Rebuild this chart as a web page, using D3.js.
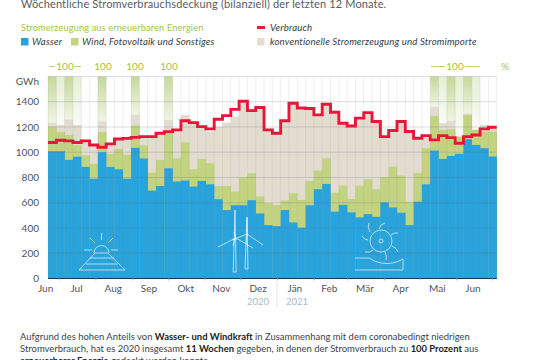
<!DOCTYPE html>
<html>
<head>
<meta charset="utf-8">
<script src="https://cdn.jsdelivr.net/npm/d3@7"></script>
<style>
  html, body { margin: 0; padding: 0; background: #fff; overflow: hidden; }
  text { font-family: Lato, "Open Sans", sans-serif; }
</style>
</head>
<body>
<script>
// top of each stack layer per week (GWh)
var waterTop = [1008,1008,940,965,884,790,1000,884,865,790,1035,950,696,733,873,768,776,728,773,746,628,542,580,580,620,515,423,415,542,444,402,580,707,749,529,583,524,484,510,489,603,563,521,423,608,746,1013,947,971,987,1103,1058,1032,966];
var renewableTop = [1203,1160,1137,1055,976,908,1160,987,1026,980,1211,1055,839,940,1160,952,1079,865,947,913,733,733,688,800,834,650,596,583,617,675,622,773,855,952,680,736,630,735,786,707,802,886,815,609,834,1032,1288,1177,1182,1124,1296,1177,1164,1164];
var totalTop = [1235,1216,1261,1216,1100,1060,1245,1058,1100,1110,1300,1124,1124,1150,1255,1180,1295,1240,1205,1164,1203,1235,1282,1404,1330,1354,1177,1150,1250,1388,1351,1346,1296,1380,1317,1230,1208,1270,1314,1243,1124,1172,1243,1164,1111,1132,1362,1230,1250,1124,1309,1177,1216,1203];
var consumption = [1077,1095,1090,1077,1090,1058,1040,1066,1105,1110,1118,1124,1124,1150,1163,1177,1250,1235,1203,1185,1261,1290,1340,1404,1330,1354,1177,1150,1250,1388,1351,1346,1296,1380,1317,1230,1208,1270,1314,1243,1124,1172,1243,1164,1111,1132,1098,1132,1116,1071,1124,1137,1185,1198];

// weeks with 100 percent coverage
var fullWeeks = [0,2,6,10,14,46,48,50];
var paleWeeks = [1,3,47,49,51];

var yTicks = [0,200,400,600,800,1000,1200,1400];
var monthNames = ['Jun','Jul','Aug','Sep','Okt','Nov','Dez','Jän','Feb','Mär','Apr','Mai','Jun'];
var monthLabelDates = ['2020-06-20','2020-07-16','2020-08-16','2020-09-15','2020-10-16','2020-11-15','2020-12-16','2021-01-16','2021-02-14','2021-03-16','2021-04-15','2021-05-16','2021-06-15'];

var colors = {
  water: '#29a3dc',
  wind: '#c3d480',
  conv: '#e3ddd0',
  red: '#e8173a',
  green: '#a3c43c',
  ink: '#4c5660',
  year: '#a9bccb'
};

var svg = d3.select('body').append('svg')
  .attr('width', 540)
  .attr('height', 360);

//
// scales
//
var xWeek = d3.scaleLinear().domain([0, 54]).range([48, 496.7]);
var xTime = d3.scaleUtc()
  .domain([new Date('2020-06-22'), new Date('2021-07-05')])
  .range([48, 496.7]);
var y = d3.scaleLinear().domain([0, 1600]).range([278.5, 76.5]);
var barW = xWeek(1) - xWeek(0);

//
// gradients for the 100 percent columns
//
var defs = svg.append('defs');
function addGradient(id, a, b) {
  var g = defs.append('linearGradient').attr('id', id)
    .attr('x1', 0).attr('x2', 0).attr('y1', 0).attr('y2', 1);
  g.append('stop').attr('offset', 0).attr('stop-color', '#b3cc78').attr('stop-opacity', a);
  g.append('stop').attr('offset', 1).attr('stop-color', '#b3cc78').attr('stop-opacity', b);
}
addGradient('fullBand', 0.75, 0.2);
addGradient('paleBand', 0.32, 0.06);

svg.selectAll('.band-full').data(fullWeeks).enter().append('rect')
  .attr('x', d => xWeek(d)).attr('width', barW)
  .attr('y', y(1600)).attr('height', d => y(totalTop[d]) - y(1600))
  .attr('fill', 'url(#fullBand)');
svg.selectAll('.band-pale').data(paleWeeks).enter().append('rect')
  .attr('x', d => xWeek(d)).attr('width', barW)
  .attr('y', y(1600)).attr('height', d => y(totalTop[d]) - y(1600))
  .attr('fill', 'url(#paleBand)');

//
// stacked bars, tallest layer first
//
function drawLayer(values, fill) {
  svg.append('g').selectAll('rect').data(values).enter().append('rect')
    .attr('x', (d, i) => xWeek(i))
    .attr('width', barW + 0.2)
    .attr('y', d => y(d))
    .attr('height', d => y(0) - y(d))
    .attr('fill', fill);
}
drawLayer(totalTop, colors.conv);
drawLayer(renewableTop, colors.wind);
drawLayer(waterTop, colors.water);

//
// grid on top of the bars
//
svg.append('g').selectAll('line').data(d3.range(0, 55)).enter().append('line')
  .attr('x1', d => xWeek(d)).attr('x2', d => xWeek(d))
  .attr('y1', y(1600)).attr('y2', y(0))
  .attr('stroke', '#6f7f8c').attr('stroke-opacity', 0.17).attr('stroke-width', 0.8);

svg.append('g').selectAll('line').data(d3.range(200, 1601, 200)).enter().append('line')
  .attr('x1', 48).attr('x2', 496.7)
  .attr('y1', d => y(d)).attr('y2', d => y(d))
  .attr('stroke', '#5f6b75').attr('stroke-opacity', 0.28).attr('stroke-width', 0.8);

//
// consumption line
//
var stepLine = d3.line()
  .x((d, i) => xWeek(i))
  .y(d => y(d))
  .curve(d3.curveStepAfter);
svg.append('path')
  .datum(consumption.concat(consumption[consumption.length - 1]))
  .attr('d', stepLine)
  .attr('fill', 'none')
  .attr('stroke', colors.red)
  .attr('stroke-width', 2.9);

//
// axes
//
var yAxis = d3.axisLeft(y).tickValues(yTicks).tickSize(0).tickPadding(9).tickFormat(d3.format('d'));
var yG = svg.append('g').attr('transform', 'translate(48,0)').call(yAxis);
yG.select('.domain').remove();
yG.selectAll('text').attr('font-size', 10).attr('fill', colors.ink);

var xAxis = d3.axisBottom(xTime).ticks(d3.utcMonth.every(1)).tickSize(2).tickFormat('');
var xG = svg.append('g').attr('transform', 'translate(0,278.5)').call(xAxis);
xG.select('.domain').attr('stroke', '#123a55').attr('stroke-width', 1.2).attr('d', 'M48,0H496.7');
xG.selectAll('line').attr('stroke', '#a8b0b6');

svg.append('g').selectAll('text').data(monthNames).enter().append('text')
  .attr('x', (d, i) => xTime(new Date(monthLabelDates[i])))
  .attr('y', 292)
  .attr('text-anchor', 'middle')
  .attr('font-size', 10)
  .attr('fill', colors.ink)
  .text(d => d);

// year labels under the axis
svg.append('line').attr('x1', 277).attr('x2', 277).attr('y1', 283).attr('y2', 307)
  .attr('stroke', '#dfe5ea').attr('stroke-width', 1);
svg.append('text').attr('x', 258).attr('y', 305).attr('text-anchor', 'middle')
  .attr('font-size', 9.5).attr('fill', colors.year).text('2020');
svg.append('text').attr('x', 297).attr('y', 305).attr('text-anchor', 'middle')
  .attr('font-size', 9.5).attr('fill', colors.year).text('2021');

svg.append('text').attr('x', 39).attr('y', 85).attr('text-anchor', 'end')
  .attr('font-size', 10).attr('fill', colors.ink).text('GWh');

//
// 100 labels above the plot
//
var hundredLabels = [65, 103, 135, 169, 455];
svg.append('g').selectAll('text').data(hundredLabels).enter().append('text')
  .attr('x', d => d).attr('y', 70)
  .attr('text-anchor', 'middle')
  .attr('font-size', 10)
  .attr('fill', colors.green)
  .text('100');
svg.append('text').attr('x', 505).attr('y', 70).attr('text-anchor', 'middle')
  .attr('font-size', 10).attr('fill', colors.green).text('%');
[[49, 55], [74, 81], [431, 445], [465, 480]].forEach(function(s) {
  svg.append('line').attr('x1', s[0]).attr('x2', s[1]).attr('y1', 66.5).attr('y2', 66.5)
    .attr('stroke', colors.green).attr('stroke-width', 0.7);
});

//
// title and legend
//
svg.append('text').attr('x', 21).attr('y', 8)
  .attr('font-size', 11).attr('letter-spacing', 0.14).attr('fill', '#555d64')
  .text('Wöchentliche Stromverbrauchsdeckung (bilanziell) der letzten 12 Monate.');

svg.append('text').attr('x', 21).attr('y', 31)
  .attr('font-size', 9.2).attr('letter-spacing', 0.15).attr('fill', colors.green)
  .text('Stromerzeugung aus erneuerbaren Energien');

function legendSwatch(x, fill, label, textX) {
  svg.append('rect').attr('x', x).attr('y', 38).attr('width', 7.5).attr('height', 7.5).attr('fill', fill);
  svg.append('text').attr('x', textX).attr('y', 45)
    .attr('font-size', 9.6).attr('font-style', 'italic').attr('letter-spacing', 0.17)
    .attr('fill', '#333b42').text(label);
}
legendSwatch(21, colors.water, 'Wasser', 32);
legendSwatch(71, colors.wind, 'Wind, Fotovoltaik und Sonstiges', 82);
legendSwatch(257, colors.conv, 'konventionelle Stromerzeugung und Stromimporte', 270);

svg.append('line').attr('x1', 257).attr('x2', 265).attr('y1', 27.5).attr('y2', 27.5)
  .attr('stroke', colors.red).attr('stroke-width', 2.9);
svg.append('text').attr('x', 270).attr('y', 31)
  .attr('font-size', 9.6).attr('font-style', 'italic').attr('letter-spacing', 0.17)
  .attr('fill', '#333b42').text('Verbrauch');

//
// white line icons on the water area
//
var icons = svg.append('g')
  .attr('fill', 'none')
  .attr('stroke', '#fff')
  .attr('stroke-opacity', 0.8)
  .attr('stroke-width', 0.8);

// sun over a solar panel
icons.append('path').attr('d', 'M94,253a7.5,7.5 0 0 1 15,0 M95,253h13 L125,270H79Z M90,258h24 M86,264h32');
icons.append('path').attr('d', 'M101.500,233v7 M90,238l5,5 M113,238l-5,5 M84,250h8 M111,250h7');

// two wind turbines
icons.append('path').attr('d', 'M235,210l1.200,62h-3l1.800,-62 M247,217l1,52h-3l2,-52');
icons.append('path').attr('d', 'M218,247l18,-9l17,10 M234,232l2,8 M235,238l-2,8');
icons.append('path').attr('d', 'M232,240l15,-6l16,11 M247,218v18 M247,236l-1,8');

// water wheel
icons.append('circle').attr('cx', 381).attr('cy', 241).attr('r', 11);
icons.append('circle').attr('cx', 381).attr('cy', 241).attr('r', 2);
icons.append('path').attr('d', 'M370,232q-3,-5 -1,-9 M379,229q1,-5 6,-6 M391,235q4,-3 7,-2 M392,246q5,2 6,6 M385,252q2,4 1,8 M373,250q-3,3 -8,2 M368,240q-4,0 -6,-4');
icons.append('path').attr('d', 'M355,258h14q6,4 12,5q12,2 22,-4v11H355');

//
// text below the chart
//
var notes = svg.append('g').attr('font-size', 9.45).attr('fill', '#3c4349');
var line1 = notes.append('text').attr('x', 20).attr('y', 340);
line1.append('tspan').text('Aufgrund des hohen Anteils von ');
line1.append('tspan').attr('font-weight', 700).attr('fill', '#222').text('Wasser- und Windkraft');
line1.append('tspan').text(' in Zusammenhang mit dem coronabedingt niedrigen');
var line2 = notes.append('text').attr('x', 20).attr('y', 352);
line2.append('tspan').text('Stromverbrauch, hat es 2020 insgesamt ');
line2.append('tspan').attr('font-weight', 700).attr('fill', '#222').text('11 Wochen');
line2.append('tspan').text(' gegeben, in denen der Stromverbrauch zu ');
line2.append('tspan').attr('font-weight', 700).attr('fill', '#222').text('100 Prozent');
line2.append('tspan').text(' aus');
var line3 = notes.append('text').attr('x', 20).attr('y', 364);
line3.append('tspan').attr('font-weight', 700).attr('fill', '#222').text('erneuerbarer Energie');
line3.append('tspan').text(' gedeckt werden konnte.');
</script>
</body>
</html>
